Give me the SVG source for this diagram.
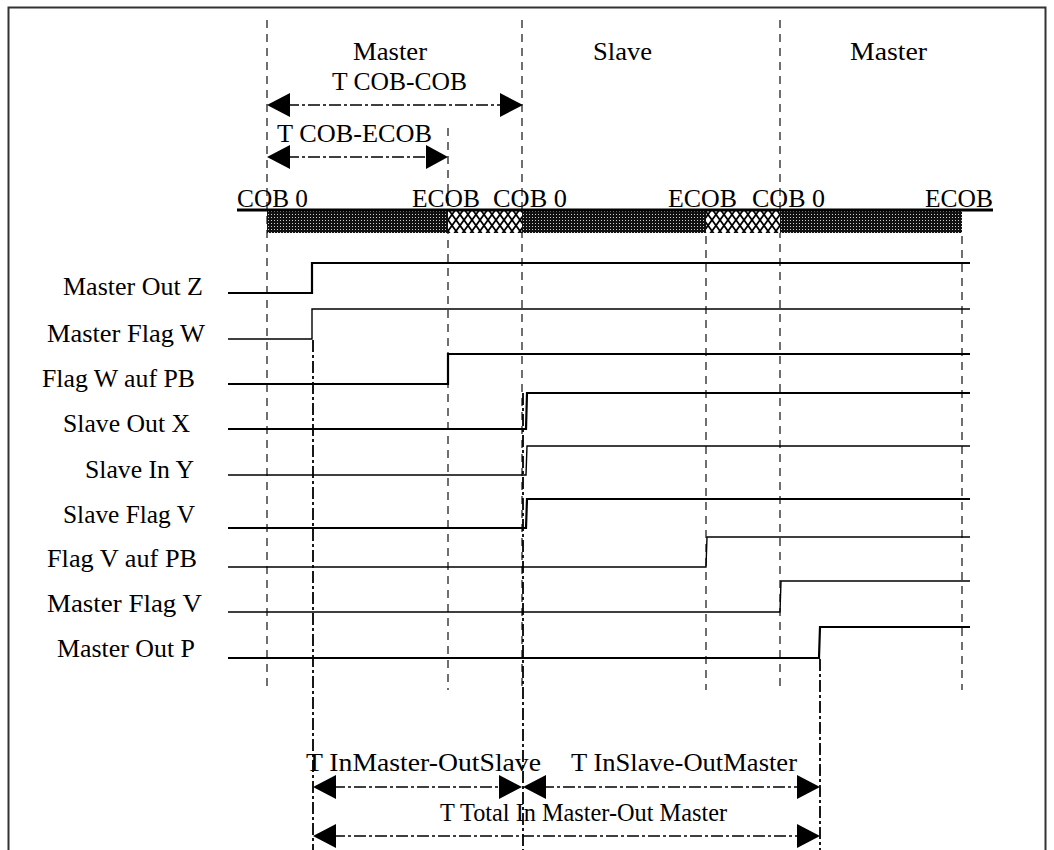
<svg xmlns="http://www.w3.org/2000/svg" width="1054" height="850" viewBox="0 0 1054 850">
<style>
text{font-family:"Liberation Serif","Times New Roman",serif;font-size:25px;fill:#000}
.sig{fill:none;stroke:#000;stroke-width:2.2}
.sigt{fill:none;stroke:#000;stroke-width:1.4}
.grid{stroke:#111;stroke-width:1.2;stroke-dasharray:8 6;fill:none}
.dd{stroke:#000;stroke-width:1.8;stroke-dasharray:12 3 3 3;fill:none}
.dim{stroke:#000;stroke-width:1.6;stroke-dasharray:12 3 3 3;fill:none}
.ah{fill:#000}
</style>
<defs>
<pattern id="dark" width="3" height="3" patternUnits="userSpaceOnUse">
<rect width="3" height="3" fill="#111"/>
<rect x="1" y="1" width="1" height="1" fill="#d0d0d0"/>
</pattern>
<pattern id="diam" width="8" height="11" patternUnits="userSpaceOnUse">
<rect width="8" height="11" fill="#fff"/>
<path d="M0 0 L8 11 M8 0 L0 11" stroke="#000" stroke-width="1.8"/>
</pattern>
</defs>
<rect x="8.5" y="7.5" width="1037" height="860" fill="#fff" stroke="#333" stroke-width="2"/>

<g id="grid-lines">
<line class="grid" x1="267" y1="20" x2="267" y2="690"/>
<line class="grid" x1="448" y1="128" x2="448" y2="690"/>
<line class="grid" x1="522" y1="20" x2="522" y2="690"/>
<line class="grid" x1="706" y1="236" x2="706" y2="690"/>
<line class="grid" x1="780" y1="20" x2="780" y2="690"/>
<line class="grid" x1="962" y1="236" x2="962" y2="690"/>
</g>

<g id="phase-labels">
<text x="353" y="60" textLength="74" lengthAdjust="spacingAndGlyphs">Master</text>
<text x="593" y="60" textLength="59" lengthAdjust="spacingAndGlyphs">Slave</text>
<text x="850" y="60" textLength="77" lengthAdjust="spacingAndGlyphs">Master</text>
<text x="332" y="90" textLength="135" lengthAdjust="spacingAndGlyphs">T COB-COB</text>
<text x="277" y="142" textLength="155" lengthAdjust="spacingAndGlyphs">T COB-ECOB</text>
</g>

<g id="bus-bar">
<rect x="267" y="211" width="181" height="22" fill="url(#dark)"/>
<rect x="448" y="211" width="74" height="22" fill="url(#diam)"/>
<rect x="522" y="211" width="184" height="22" fill="url(#dark)"/>
<rect x="706" y="211" width="74" height="22" fill="url(#diam)"/>
<rect x="780" y="211" width="182" height="22" fill="url(#dark)"/>
<line x1="237" y1="210" x2="993" y2="210" stroke="#000" stroke-width="3"/>
<text x="237" y="207" textLength="71" lengthAdjust="spacingAndGlyphs">COB 0</text>
<text x="412" y="207" textLength="68" lengthAdjust="spacingAndGlyphs">ECOB</text>
<text x="493" y="207" textLength="74" lengthAdjust="spacingAndGlyphs">COB 0</text>
<text x="668" y="207" textLength="69" lengthAdjust="spacingAndGlyphs">ECOB</text>
<text x="752" y="207" textLength="73" lengthAdjust="spacingAndGlyphs">COB 0</text>
<text x="925" y="207" textLength="68" lengthAdjust="spacingAndGlyphs">ECOB</text>
</g>

<g id="master-out-z">
<text x="63" y="295" textLength="140" lengthAdjust="spacingAndGlyphs">Master Out Z</text>
<polyline class="sig" points="228,293 312,293 312,263 970,263"/>
</g>
<g id="master-flag-w">
<text x="47" y="342" textLength="158" lengthAdjust="spacingAndGlyphs">Master Flag W</text>
<polyline class="sigt" points="228,339 312,339 312,309 970,309"/>
</g>
<g id="flag-w-auf-pb">
<text x="42" y="387" textLength="153" lengthAdjust="spacingAndGlyphs">Flag W auf PB</text>
<polyline class="sig" points="228,384 448,384 448,354 970,354"/>
</g>
<g id="slave-out-x">
<text x="63" y="432" textLength="127" lengthAdjust="spacingAndGlyphs">Slave Out X</text>
<polyline class="sig" points="228,429 526,429 527,393 970,393"/>
</g>
<g id="slave-in-y">
<text x="85" y="478" textLength="109" lengthAdjust="spacingAndGlyphs">Slave In Y</text>
<polyline class="sigt" points="228,475 526,475 527,446 970,446"/>
</g>
<g id="slave-flag-v">
<text x="63" y="523" textLength="132" lengthAdjust="spacingAndGlyphs">Slave Flag V</text>
<polyline class="sig" points="228,528 526,528 527,499 970,499"/>
</g>
<g id="flag-v-auf-pb">
<text x="47" y="567" textLength="150" lengthAdjust="spacingAndGlyphs">Flag V auf PB</text>
<polyline class="sigt" points="228,567 706,567 707,537 970,537"/>
</g>
<g id="master-flag-v">
<text x="47" y="612" textLength="155" lengthAdjust="spacingAndGlyphs">Master Flag V</text>
<polyline class="sigt" points="228,612 780,612 781,581 970,581"/>
</g>
<g id="master-out-p">
<text x="57" y="657" textLength="138" lengthAdjust="spacingAndGlyphs">Master Out P</text>
<polyline class="sig" points="228,658 819,658 820,627 970,627"/>
</g>

<g id="connectors">
<line class="dd" x1="313" y1="340" x2="313" y2="850"/>
<line class="dd" x1="523" y1="393" x2="523" y2="850"/>
<line class="dd" x1="820" y1="659" x2="820" y2="850"/>

<line class="dim" x1="287" y1="105" x2="503" y2="105"/>
<polygon class="ah" points="267,105 290,93 290,117"/>
<polygon class="ah" points="523,105 500,93 500,117"/>

<line class="dim" x1="287" y1="157" x2="430" y2="157"/>
<polygon class="ah" points="267,157 290,145 290,169"/>
<polygon class="ah" points="448,157 426,145 426,169"/>

<line class="dim" x1="333" y1="787" x2="502" y2="787"/>
<polygon class="ah" points="313,787 336,775 336,799"/>
<polygon class="ah" points="522,787 499,775 499,799"/>
<line class="dim" x1="542" y1="787" x2="800" y2="787"/>
<polygon class="ah" points="523,787 546,775 546,799"/>
<polygon class="ah" points="820,787 797,775 797,799"/>

<line class="dim" x1="333" y1="836" x2="800" y2="836"/>
<polygon class="ah" points="313,836 336,824 336,848"/>
<polygon class="ah" points="820,836 797,824 797,848"/>

<text x="306" y="771" textLength="235" lengthAdjust="spacingAndGlyphs">T InMaster-OutSlave</text>
<text x="571" y="771" textLength="226" lengthAdjust="spacingAndGlyphs">T InSlave-OutMaster</text>
<text x="440" y="821" textLength="287" lengthAdjust="spacingAndGlyphs">T Total In Master-Out Master</text>
</g>
</svg>
